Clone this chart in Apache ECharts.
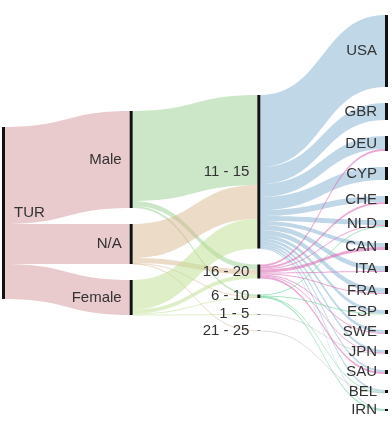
<!DOCTYPE html>
<html>
<head>
<meta charset="utf-8">
<script src="https://cdn.jsdelivr.net/npm/echarts@6/dist/echarts.min.js"></script>
<style>
  html, body { margin: 0; padding: 0; background: #fff; }
  #chart { width: 392px; height: 423px; }
</style>
</head>
<body>
<div id="chart"></div>
<script>
// 节点（按列，按数值从大到小）
var origins = ['TUR'];
var genders = ['Male', 'N/A', 'Female'];
var ages = ['11 - 15', '16 - 20', '6 - 10', '1 - 5', '21 - 25'];
var countries = ['USA', 'GBR', 'DEU', 'CYP', 'CHE', 'NLD', 'CAN', 'ITA', 'FRA', 'ESP', 'SWE', 'JPN', 'SAU', 'BEL', 'IRN'];

// TUR -> 性别
var originToGender = [194, 80, 70];

// 性别 -> 年龄  [gender, age, value]
var genderToAge = [
  ['Male', '11 - 15', 180], ['Male', '16 - 20', 10], ['Male', '6 - 10', 4],
  ['N/A', '11 - 15', 68], ['N/A', '16 - 20', 10], ['N/A', '6 - 10', 1], ['N/A', '21 - 25', 1],
  ['Female', '11 - 15', 59], ['Female', '16 - 20', 8], ['Female', '6 - 10', 2], ['Female', '1 - 5', 1]
];

// 年龄 -> 国家（与 countries 同序）
var from1115 = [144, 34, 26, 26, 12, 10, 8, 10, 10, 7, 6, 5, 4, 4, 1];
var from1620 = [0, 0, 4, 0, 4, 2, 6, 2, 2, 0, 2, 2, 4, 0, 0];
var from610  = [0, 0, 0, 0, 0, 2, 0, 0, 0, 1, 0, 0, 0, 1, 3];
var from15   = [0, 0, 0, 0, 0, 0, 0, 0, 0, 0, 0, 1, 0, 0, 0];
var from2125 = [0, 0, 0, 0, 0, 0, 0, 0, 0, 0, 0, 0, 0, 1, 0];

var linkColors = {
  'TUR': '#d4959c',
  'Male': '#98d092',
  'N/A': '#d8b88f',
  'Female': '#bde08f',
  '11 - 15': '#7fb0cf',
  '16 - 20': '#dc6fb8',
  '6 - 10': '#6fd49c',
  '1 - 5': '#bbbbbb',
  '21 - 25': '#bbbbbb'
};

var TOP = 15, BOTTOM = 12;

var nodes = [];
origins.forEach(function (n) {
  nodes.push({ name: n, label: { position: 'right', distance: 9 } });
});
genders.concat(ages, countries).forEach(function (n) {
  nodes.push({ name: n, label: { position: 'left', distance: 8 } });
});

var links = [];
var addLink = function (s, t, v) {
  if (!v) return;
  links.push({
    source: s, target: t, value: v,
    lineStyle: { color: linkColors[s], opacity: s === '16 - 20' || s === '6 - 10' ? 0.6 : 0.5 }
  });
};
genders.forEach(function (g, i) { addLink('TUR', g, originToGender[i]); });
genderToAge.forEach(function (d) { addLink(d[0], d[1], d[2]); });
var ageRows = [from1115, from1620, from610, from15, from2125];
ages.forEach(function (a, i) {
  countries.forEach(function (c, j) { addLink(a, c, ageRows[i][j]); });
});

var myChart = echarts.init(document.getElementById('chart'));
myChart.setOption({
  animation: false,
  series: [{
    type: 'sankey',
    left: 2,
    right: 4,
    top: TOP,
    bottom: BOTTOM,
    nodeWidth: 3,
    nodeGap: 16,
    layoutIterations: 0,   // 保持数据顺序
    draggable: false,
    emphasis: { disabled: true },
    itemStyle: { color: '#111', borderWidth: 0 },
    label: {
      color: '#333',
      fontSize: 15,
      fontFamily: 'Liberation Sans, Arial, sans-serif'
    },
    lineStyle: { curveness: 0.5 },
    data: nodes,
    links: links
  }]
});

// 每一列垂直居中（在 echarts 算好的布局上平移整列）
try {
  var H = 423 - TOP - BOTTOM;
  var graph = myChart.getModel().getSeriesByIndex(0).getGraph();
  var cols = {};
  graph.nodes.forEach(function (node) {
    var l = node.getLayout();
    var k = Math.round(l.x);
    if (!cols[k]) cols[k] = { min: Infinity, max: -Infinity, list: [] };
    cols[k].min = Math.min(cols[k].min, l.y);
    cols[k].max = Math.max(cols[k].max, l.y + l.dy);
    cols[k].list.push(node);
  });
  Object.keys(cols).forEach(function (k) {
    var c = cols[k];
    var shift = (H - (c.max - c.min)) / 2 - c.min;
    c.list.forEach(function (node) {
      nodes[node.dataIndex].localY = (node.getLayout().y + shift) / H;
    });
  });
  myChart.setOption({ series: [{ data: nodes }] });
} catch (e) {
  console.log(e);
}
</script>
</body>
</html>
